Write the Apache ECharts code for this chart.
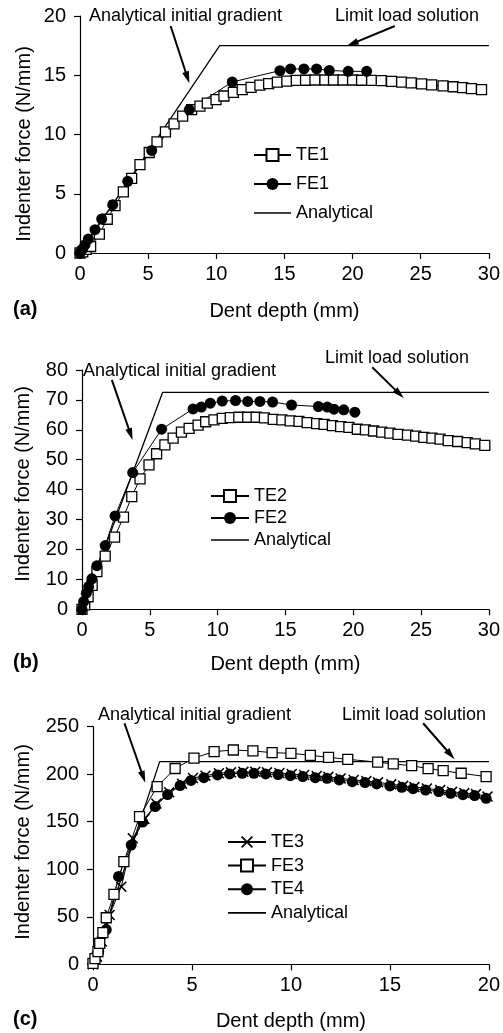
<!DOCTYPE html>
<html><head><meta charset="utf-8">
<script src="https://cdn.jsdelivr.net/npm/echarts/dist/echarts.min.js"></script>
<style>html,body{margin:0;padding:0;background:#fff}#c{width:503px;height:1033px}</style>
</head><body><div id="c"></div><script>
// ---------- Panel (a) ----------
const te1 = [[0,0],[0.2,0.1],[0.45,0.3],[0.78,0.55],[1.42,1.6],[2.0,2.85],[2.57,4.0],[3.18,5.15],[3.79,6.3],[4.4,7.45],[5.08,8.48],[5.65,9.37],[6.27,10.22],[6.9,10.9],[7.53,11.55],[8.19,12.1],[8.8,12.4],[9.34,12.65],[9.98,12.95],[10.56,13.25],[11.25,13.55],[11.9,13.78],[12.55,13.98],[13.2,14.17],[13.84,14.3],[14.48,14.42],[15.18,14.5],[15.87,14.56],[16.55,14.58],[17.24,14.6],[17.97,14.6],[18.6,14.6],[19.3,14.6],[20.0,14.6],[20.66,14.58],[21.4,14.57],[22.1,14.55],[22.86,14.49],[23.6,14.42],[24.3,14.35],[25.06,14.27],[25.8,14.18],[26.64,14.1],[27.38,14.03],[28.07,13.95],[28.72,13.87],[29.46,13.78]];
const fe1 = [[0,0],[0.2,0.35],[0.37,0.7],[0.61,1.18],[1.1,1.97],[1.59,2.87],[2.4,4.08],[3.5,6.05],[5.26,8.66],[8.02,12.1],[11.17,14.43],[14.67,15.39],[15.45,15.53],[16.43,15.53],[17.36,15.53],[18.29,15.41],[19.68,15.33],[21.03,15.33]];
const an1 = [[0,0],[10.25,17.5],[30,17.5]];
// ---------- Panel (b) ----------
const te2 = [[0,0],[0.2,1.5],[0.45,4.2],[0.75,8],[1.1,12.6],[1.71,17.8],[2.4,24.1],[3.06,30.8],[3.67,37.7],[4.28,43.6],[4.94,48.3],[5.5,52],[6.11,55],[6.72,57.2],[7.33,59.2],[7.9,60.5],[8.56,61.6],[9.12,62.7],[9.73,63.3],[10.34,63.8],[10.93,64.1],[11.56,64.2],[12.22,64.2],[12.84,64.2],[13.45,64],[14.1,63.5],[14.74,63.3],[15.35,63],[16.0,62.8],[16.6,62.4],[17.3,62.1],[17.85,61.8],[18.46,61.4],[19.07,61.1],[19.68,60.8],[20.3,60.2],[20.9,60],[21.5,59.6],[22.1,59.2],[22.7,58.9],[23.3,58.5],[24.0,58.2],[24.6,57.9],[25.2,57.5],[25.8,57.2],[26.4,56.9],[27.0,56.4],[27.7,56.1],[28.4,55.7],[29.0,55.3],[29.7,54.8]];
const fe2 = [[0,0],[0.12,2.6],[0.32,5.4],[0.49,7.6],[0.73,10.2],[1.1,14.6],[1.71,21.3],[2.44,31.2],[3.74,45.7],[5.87,60.2],[8.19,67],[8.8,67.6],[9.46,68.9],[10.34,69.6],[11.32,69.8],[12.22,69.5],[13.12,69.5],[14.05,69.3],[15.45,68.3],[17.43,67.8],[18.09,67.6],[18.58,66.9],[19.3,66.7],[20.12,65.9]];
const an2 = [[0,0],[5.94,72.5],[30,72.5]];
// ---------- Panel (c) ----------
const te3 = [[0,0],[0.2,8],[0.45,24],[0.84,52],[1.43,81.7],[2.01,132.6],[2.6,153],[3.2,169],[3.85,181],[4.5,190],[5.05,196],[5.68,198.5],[6.36,201],[6.97,202],[7.6,202.5],[8.2,202.5],[8.79,202],[9.42,201.3],[10.04,200.2],[10.67,199.2],[11.3,198.1],[11.89,197.3],[12.51,195.6],[13.17,193.9],[13.81,192.8],[14.4,191.5],[15.07,189.4],[15.67,187.8],[16.24,186.5],[16.87,185],[17.54,183.3],[18.14,181.5],[18.76,180.2],[19.35,179.1],[19.93,176.5]];
const fe3 = [[0,1],[0.1,6],[0.25,13.3],[0.34,22],[0.5,33.3],[0.67,49],[1.06,73.6],[1.56,108],[2.35,155.3],[3.24,187],[4.15,206],[5.1,217],[6.12,223.8],[7.09,225.5],[8.08,224.5],[9.05,222.7],[10.0,222],[10.98,219.9],[11.9,217.8],[12.87,215.7],[14.38,212.7],[15.17,210.8],[16.1,209],[16.93,205.8],[17.69,203.7],[18.6,201],[19.86,197.5]];
const te4 = [[0,1],[0.29,13.3],[0.67,36.5],[1.29,92.5],[1.93,125.5],[2.51,149.7],[3.14,166],[3.77,178.6],[4.4,188],[4.95,193.5],[5.6,196.4],[6.29,199.2],[6.9,200.3],[7.54,201],[8.13,201],[8.72,200.3],[9.35,199.6],[9.97,198.5],[10.6,197.5],[11.23,196.4],[11.82,195.7],[12.44,194],[13.1,192.2],[13.74,191.2],[14.33,189.8],[15.0,187.7],[15.6,186.2],[16.17,184.8],[16.8,183.4],[17.47,181.7],[18.07,179.9],[18.69,178.5],[19.28,177.5],[19.86,174.7]];
const an3 = [[0,0],[3.37,213.3],[20,213.3]];

// axis ranges / ticks
const xMax = [30, 30, 20];
const xStep = [5, 5, 5];
const yMax = [20, 80, 250];
const yStep = [5, 10, 50];

// annotation arrows (data coords: from -> tip)
const arrows = [
  {g:0, from:[6.65,19.16], to:[8.02,14.32]},
  {g:0, from:[23.1,19.16], to:[19.57,17.47]},
  {g:1, from:[2.2,76.7], to:[3.73,56.6]},
  {g:1, from:[21.4,80.9], to:[23.72,70.6]},
  {g:2, from:[1.59,253.6], to:[2.64,191.1]},
  {g:2, from:[16.68,253.6], to:[18.27,215.7]}
];
const gradText = 'Analytical initial gradient';
const limitText = 'Limit load solution';
const panelLabels = ['(a)', '(b)', '(c)'];
const xTitle = 'Dent depth (mm)';
const yTitle = 'Indenter force (N/mm)';

const FONT = '"Liberation Sans", Arial, Helvetica, sans-serif';
const crossPath = 'path://M0,1L1,0L5,4L9,0L10,1L6,5L10,9L9,10L5,6L1,10L0,9L4,5Z';
const lineIcon = 'path://M0,0L40,0L40,1.8L0,1.8Z';

const grids = [
  {left:80, right:14, top:16, height:237},
  {left:82, right:12, top:370, height:239.3},
  {left:93, right:12, top:726.7, height:237.6}
];
const xNameGap = [48, 45, 47];
const yTitlePos = [[24,144],[23.5,484],[23.5,842]];

function mkX(i){
  return {type:'value', gridIndex:i, min:0, max:xMax[i], interval:xStep[i],
    name:xTitle, nameLocation:'middle', nameGap:xNameGap[i],
    nameTextStyle:{fontFamily:FONT, fontSize:20, color:'#000'},
    axisLine:{show:true, onZero:false, lineStyle:{color:'#000', width:1.2}},
    axisTick:{show:true, inside:false, length:6, lineStyle:{color:'#000', width:1.2}},
    axisLabel:{fontFamily:FONT, fontSize:20, color:'#000', margin:11, showMinLabel:true, showMaxLabel:true},
    splitLine:{show:false}};
}
function mkY(i){
  return {type:'value', gridIndex:i, min:0, max:yMax[i], interval:yStep[i],
    axisLine:{show:true, onZero:false, lineStyle:{color:'#000', width:1.2}},
    axisTick:{show:true, inside:false, length:6, lineStyle:{color:'#000', width:1.2}},
    axisLabel:{fontFamily:FONT, fontSize:20, color:'#000', margin:14, showMinLabel:true, showMaxLabel:true},
    splitLine:{show:false}};
}
function ser(name, data, gi, kind){
  const s = {type:'line', name:name, data:data, xAxisIndex:gi, yAxisIndex:gi,
    clip:false, silent:true, animation:false, smooth:false,
    lineStyle:{color:'#000', width:1}, emphasis:{disabled:true}};
  if (kind==='sq'){ s.symbol='rect'; s.symbolSize=10; s.itemStyle={color:'#fff', borderColor:'#000', borderWidth:1.3}; }
  else if (kind==='ci'){ s.symbol='circle'; s.symbolSize=11; s.itemStyle={color:'#000', borderColor:'#000', borderWidth:0}; }
  else if (kind==='x'){ s.symbol=crossPath; s.symbolSize=11; s.itemStyle={color:'#000', borderWidth:0}; }
  else { s.symbol='none'; s.showSymbol=false; s.lineStyle={color:'#000', width:1.3}; s.itemStyle={color:'#000'}; }
  return s;
}
const legendBase = {orient:'vertical', itemWidth:37, itemHeight:15, padding:0, selectedMode:false,
  textStyle:{fontFamily:FONT, fontSize:18, color:'#000'}};
const anItem = {name:'Analytical', icon:lineIcon, itemStyle:{color:'#000', borderWidth:0}};

const chart = echarts.init(document.getElementById('c'), null, {renderer:'canvas'});
chart.setOption({
  animation:false,
  backgroundColor:'#fff',
  grid: grids,
  xAxis: [mkX(0), mkX(1), mkX(2)],
  yAxis: [mkY(0), mkY(1), mkY(2)],
  legend: [
    Object.assign({}, legendBase, {data:['TE1','FE1',anItem], left:253, top:146, itemGap:11}),
    Object.assign({}, legendBase, {data:['TE2','FE2',anItem], left:210, top:487, itemGap:4, itemWidth:38}),
    Object.assign({}, legendBase, {data:['TE3','FE3','TE4',anItem], left:227, top:833, itemGap:5.6, itemWidth:38})
  ],
  series: [
    ser('Analytical', an1, 0, 'an'), ser('TE1', te1, 0, 'sq'), ser('FE1', fe1, 0, 'ci'),
    ser('Analytical', an2, 1, 'an'), ser('TE2', te2, 1, 'sq'), ser('FE2', fe2, 1, 'ci'),
    ser('Analytical', an3, 2, 'an'), ser('TE3', te3, 2, 'x'), ser('TE4', te4, 2, 'ci'), ser('FE3', fe3, 2, 'sq')
  ]
});

// annotations
const textPos = [
  {g:[89,17], l:[335,17]},
  {g:[83,372], l:[325,359]},
  {g:[98,716], l:[342,716]}
];
const labelY = [310, 663, 1020];
const graphics = [];
textPos.forEach((p,i)=>{
  graphics.push({type:'text', left:p.g[0], top:p.g[1]-10, style:{text:gradText, font:'18px '+FONT, fill:'#000'}});
  graphics.push({type:'text', left:p.l[0], top:p.l[1]-10, style:{text:limitText, font:'18px '+FONT, fill:'#000'}});
  graphics.push({type:'text', left:13, top:labelY[i]-11, style:{text:panelLabels[i], font:'bold 20px '+FONT, fill:'#000'}});
  graphics.push({type:'text', x:yTitlePos[i][0], y:yTitlePos[i][1], rotation:Math.PI/2,
    style:{text:yTitle, font:'20px '+FONT, fill:'#000', align:'center', verticalAlign:'middle'}});
});
arrows.forEach(a=>{
  const S = chart.convertToPixel({gridIndex:a.g}, a.from);
  const T = chart.convertToPixel({gridIndex:a.g}, a.to);
  const dx=T[0]-S[0], dy=T[1]-S[1], len=Math.hypot(dx,dy);
  const ux=dx/len, uy=dy/len, nx=-uy, ny=ux;
  const L=12, W=7;
  const B=[T[0]-ux*L, T[1]-uy*L];
  graphics.push({type:'line', shape:{x1:S[0],y1:S[1],x2:B[0]+ux*2,y2:B[1]+uy*2}, style:{stroke:'#000', lineWidth:2}});
  graphics.push({type:'polygon', shape:{points:[T,[B[0]+nx*W/2,B[1]+ny*W/2],[B[0]-nx*W/2,B[1]-ny*W/2]]}, style:{fill:'#000'}});
});
chart.setOption({graphic: graphics});
</script></body></html>
